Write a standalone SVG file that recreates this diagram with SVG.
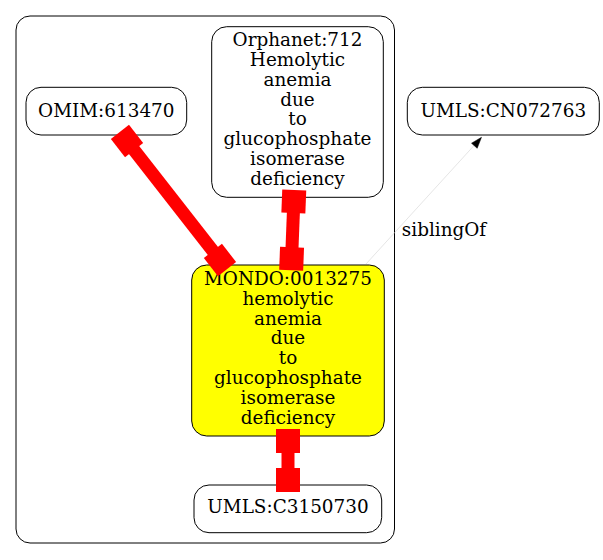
<svg xmlns="http://www.w3.org/2000/svg" width="603" height="560" viewBox="0 0 603 560">
<style>
.bg{fill:#ffffff}
.cluster{fill:none;stroke:#000;stroke-width:1}
.node{fill:#fff;stroke:#000;stroke-width:1}
.focus{fill:#ffff00;stroke:#000;stroke-width:1}
text{font-family:"DejaVu Serif","Liberation Serif",serif;font-size:18.4px;fill:#000;text-anchor:middle}
.tee{fill:#ff0000;stroke:none}
.thick{stroke:#ff0000;stroke-width:13;fill:none}
.thin{stroke:#d3d3d3;stroke-width:0.6;fill:none}
.arrow{fill:#000;stroke:#000;stroke-width:0.5}
</style>
<rect class="bg" x="0" y="0" width="603" height="560"/>
<g id="cluster">
<rect class="cluster" x="16" y="16" width="378.5" height="527" rx="14" ry="14"/>
</g>
<g id="OMIM_613470">
<rect class="node" x="26" y="87.3" width="160.7" height="47.7" rx="15" ry="15"/>
<text x="106.3" y="117.3">OMIM:613470</text>
</g>
<g id="Orphanet_712">
<rect class="node" x="211.7" y="26.7" width="171.6" height="170.6" rx="15" ry="15"/>
<text x="297.5" y="46">Orphanet:712</text>
<text x="297.5" y="65.9">Hemolytic</text>
<text x="297.5" y="85.7">anemia</text>
<text x="297.5" y="105.6">due</text>
<text x="297.5" y="125.4">to</text>
<text x="297.5" y="145.3">glucophosphate</text>
<text x="297.5" y="165.1">isomerase</text>
<text x="297.5" y="185">deficiency</text>
</g>
<g id="MONDO_0013275">
<rect class="focus" x="191.7" y="265" width="192.6" height="171" rx="15" ry="15"/>
<text x="288" y="285">MONDO:0013275</text>
<text x="288" y="304.8">hemolytic</text>
<text x="288" y="324.6">anemia</text>
<text x="288" y="344.4">due</text>
<text x="288" y="364.2">to</text>
<text x="288" y="384">glucophosphate</text>
<text x="288" y="403.8">isomerase</text>
<text x="288" y="423.6">deficiency</text>
</g>
<g id="UMLS_C3150730">
<rect class="node" x="194" y="485" width="187.7" height="47.7" rx="15" ry="15"/>
<text x="288" y="513.3">UMLS:C3150730</text>
</g>
<g id="UMLS_CN072763">
<rect class="node" x="407.3" y="87.3" width="192" height="47.7" rx="15" ry="15"/>
<text x="503.3" y="116.7">UMLS:CN072763</text>
</g>
<g id="connectors">
<g id="e_omim_mondo" transform="translate(127,141) rotate(52)">
<line class="thick" x1="0" y1="0" x2="151" y2="0"/>
<rect class="tee" x="-11.5" y="-11.5" width="23" height="23"/>
<rect class="tee" x="139.5" y="-11.5" width="23" height="23"/>
</g>
<g id="e_orphanet_mondo" transform="translate(293.8,201.5) rotate(92.2)">
<line class="thick" x1="0" y1="0" x2="57.3" y2="0"/>
<rect class="tee" x="-11.5" y="-12" width="23" height="24"/>
<rect class="tee" x="45.8" y="-12" width="23" height="24"/>
</g>
<g id="e_mondo_umls" transform="translate(288,441) rotate(90)">
<line class="thick" x1="0" y1="0" x2="39" y2="0"/>
<rect class="tee" x="-12" y="-12" width="24" height="24"/>
<rect class="tee" x="27" y="-12" width="24" height="24"/>
</g>
<g id="e_sibling">
<line class="thin" x1="366" y1="264" x2="474.5" y2="145"/>
<polygon class="arrow" points="481.5,137.3 471.5,143.2 477.2,148.3"/>
<text x="444" y="236">siblingOf</text>
</g>
</g>
</svg>
